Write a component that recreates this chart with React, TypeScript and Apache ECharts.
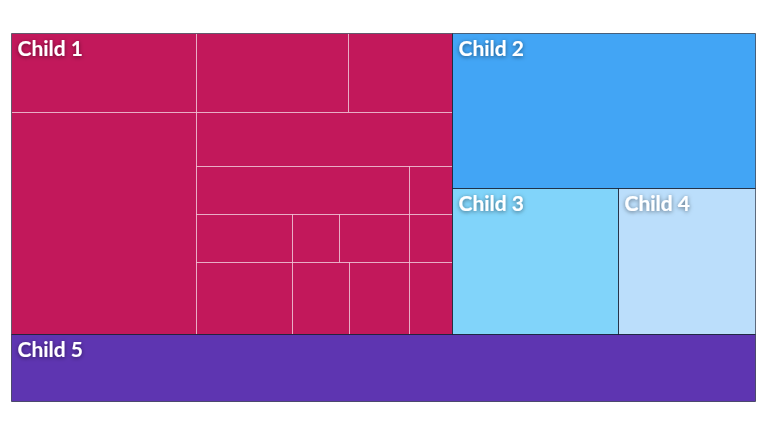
import React, { useEffect, useRef } from 'react';
import * as echarts from 'echarts';

// ---- data ----
const topNames = ['Child 1', 'Child 2', 'Child 3', 'Child 4', 'Child 5'];
const topColors = ['#C2185B', '#42A5F5', '#81D4FA', '#BBDEFB', '#5E35B1'];
// Child 2 .. Child 5
const otherValues = [46.8, 24.2, 20.0, 50.1];
// Child 1 sub-cells
const child1LeftColumn = [14.7, 41.0];
const child1TopRow = [12.0, 8.2];
const child1MiddleRow = [13.8];
const child1RowA = [10.27, 2.06];
const child1RowB = [4.57, 2.29, 3.36, 2.06];
const child1RowC = [6.76, 4.1, 4.27, 3.04];

type TNode = {
  name?: string;
  top?: number;
  value?: number;
  split?: 'h' | 'v';
  children?: TNode[];
};

const leaf = (v: number): TNode => ({ value: v });
const row = (vals: number[]): TNode => ({ split: 'h', children: vals.map(leaf) });
const col = (vals: number[]): TNode => ({ split: 'v', children: vals.map(leaf) });

function buildTree(): TNode {
  const child1: TNode = {
    name: topNames[0],
    top: 0,
    split: 'h',
    children: [
      col(child1LeftColumn),
      {
        split: 'v',
        children: [row(child1TopRow), row(child1MiddleRow), row(child1RowA), row(child1RowB), row(child1RowC)],
      },
    ],
  };
  const c = (i: number): TNode => ({ name: topNames[i], top: i, value: otherValues[i - 1] });
  return {
    split: 'v',
    children: [
      {
        split: 'h',
        children: [child1, { split: 'v', children: [c(1), { split: 'h', children: [c(2), c(3)] }] }],
      },
      c(4),
    ],
  };
}

function sum(n: TNode): number {
  if (n.children && n.children.length) return n.children.reduce((s, k) => s + sum(k), 0);
  return n.value || 0;
}

type Cell = [number, number, number, number, number, number];

function layout(n: TNode, x0: number, y0: number, x1: number, y1: number, topIdx: number, leaves: Cell[], tops: Cell[]) {
  let t = topIdx;
  if (n.top != null) {
    t = n.top;
    tops.push([x0, y0, x1, y1, t, 0]);
  }
  if (!n.children || !n.children.length) {
    leaves.push([x0, y0, x1, y1, t, n.top != null ? 0 : 1]);
    return;
  }
  const total = sum(n);
  let acc = 0;
  n.children.forEach((k) => {
    const a = acc / total;
    acc += sum(k);
    const b = acc / total;
    if (n.split === 'h') {
      layout(k, x0 + (x1 - x0) * a, y0, x0 + (x1 - x0) * b, y1, t, leaves, tops);
    } else {
      layout(k, x0, y0 + (y1 - y0) * a, x1, y0 + (y1 - y0) * b, t, leaves, tops);
    }
  });
}

const snap = (v: number) => Math.round(v) + 0.5;

function Chart() {
  const ref = useRef<HTMLDivElement>(null);
  useEffect(() => {
    if (!ref.current) return;
    const chart = echarts.init(ref.current, undefined, { renderer: 'svg' });
    const leaves: Cell[] = [];
    const tops: Cell[] = [];
    layout(buildTree(), 0, 0, 1, 1, 0, leaves, tops);

    const rectOf = (api: any) => {
      const p0 = api.coord([api.value(0), api.value(1)]);
      const p1 = api.coord([api.value(2), api.value(3)]);
      const x0 = snap(p0[0]);
      const y0 = snap(p0[1]);
      const x1 = snap(p1[0]);
      const y1 = snap(p1[1]);
      return { x: x0, y: y0, width: x1 - x0, height: y1 - y0 };
    };

    chart.setOption({
      animation: false,
      grid: { left: 11, top: 33, width: 744, height: 368 },
      xAxis: { type: 'value', min: 0, max: 1, show: false },
      yAxis: { type: 'value', min: 0, max: 1, inverse: true, show: false },
      tooltip: { show: false },
      series: [
        {
          type: 'custom',
          silent: true,
          data: leaves,
          renderItem: (params: any, api: any) => {
            const idx = api.value(4);
            const sub = api.value(5) === 1;
            return {
              type: 'rect',
              shape: rectOf(api),
              style: {
                fill: topColors[idx],
                stroke: sub ? 'rgba(255,255,255,0.45)' : null,
                lineWidth: 1,
              },
            };
          },
        },
        {
          type: 'custom',
          silent: true,
          data: tops,
          renderItem: (params: any, api: any) => {
            const idx = api.value(4);
            const r = rectOf(api);
            return {
              type: 'group',
              children: [
                {
                  type: 'rect',
                  shape: r,
                  style: { fill: null, stroke: 'rgba(10,20,40,0.6)', lineWidth: 1 },
                },
                {
                  type: 'text',
                  x: r.x + 6,
                  y: r.y + 3,
                  style: {
                    text: topNames[idx],
                    fill: '#ffffff',
                    font: 'bold 21px Lato',
                    align: 'left',
                    verticalAlign: 'top',
                    textShadowColor: 'rgba(0,0,0,0.5)',
                    textShadowBlur: 4,
                    textShadowOffsetY: 1,
                  },
                },
              ],
            };
          },
        },
      ],
    });
    return () => chart.dispose();
  }, []);
  return <div ref={ref} style={{ width: 768, height: 432 }} />;
}

export default function App() {
  return (
    <div style={{ position: 'fixed', left: 0, top: 0, width: 768, height: 432, background: '#ffffff' }}>
      <Chart />
    </div>
  );
}
